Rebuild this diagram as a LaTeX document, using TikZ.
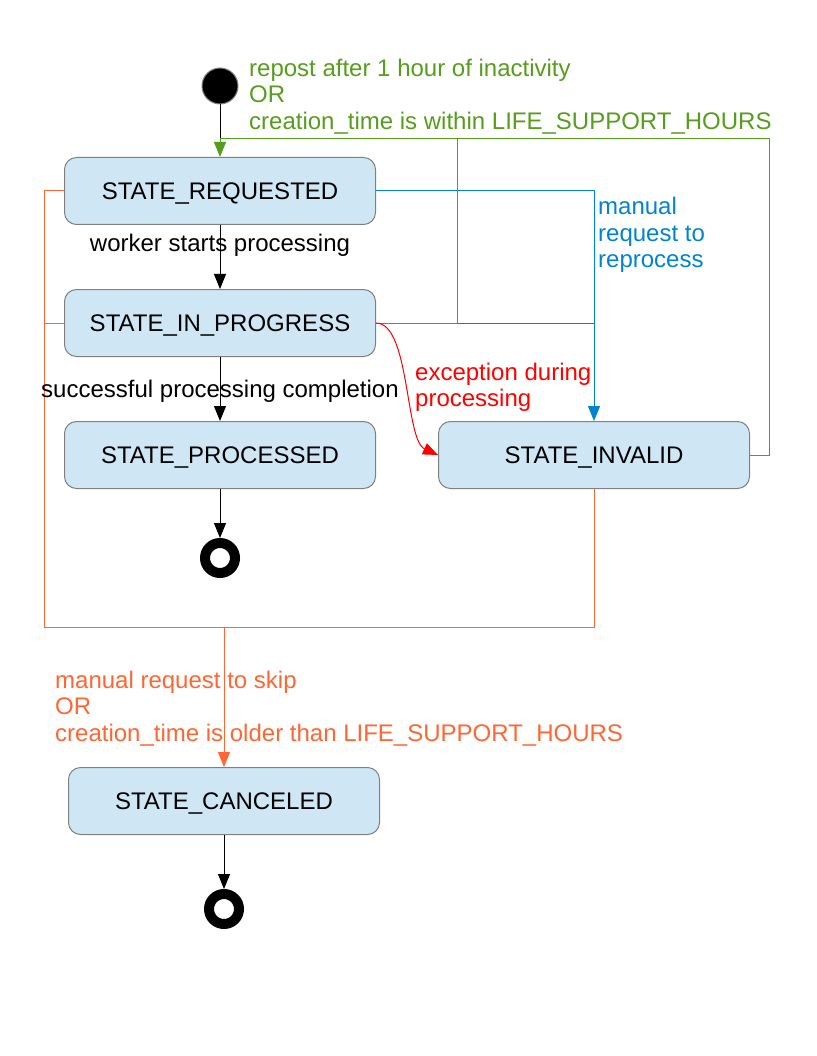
\documentclass[tikz,border=0pt]{standalone}
\usepackage{fontspec}
\setmainfont{Liberation Sans}
\usetikzlibrary{arrows.meta, positioning, calc}
\definecolor{boxfill}{HTML}{CFE7F5}
\definecolor{leafgreen}{HTML}{579D1C}
\definecolor{skyblue}{HTML}{0084D1}
\definecolor{tangerine}{HTML}{FF6633}
\tikzstyle{statebox} = [rectangle, rounded corners=12pt, minimum width=311pt, minimum height=67pt,
                        text height=17pt, text depth=0pt,
                        text centered, draw=gray, fill=boxfill, line width=1pt]
\tikzstyle{startdot} = [circle, minimum size=36pt, inner sep=0pt, fill=black, draw=gray, line width=1pt]
\tikzstyle{enddot} = [circle, minimum size=30pt, inner sep=0pt, draw=black, fill=white, line width=10pt]
\tikzstyle{arrow} = [-{Triangle[length=15pt, width=12pt]}, line width=1pt]
\tikzstyle{wire} = [line width=1pt]
\tikzstyle{note} = [align=left, inner sep=0pt, anchor=west]

\begin{document}
\begin{tikzpicture}[x=1pt, y=-1pt, font=\fontsize{24}{26.5}\selectfont]
    \useasboundingbox (0,0) rectangle (816,1056);

    \node[startdot] (start) at (220,86) {};
    \node[statebox] (requested) at (220,191) {STATE\_REQUESTED};
    \node[statebox] (progress) at (220,323) {STATE\_IN\_PROGRESS};
    \node[statebox] (processed) at (220,455) {STATE\_PROCESSED};
    \node[statebox] (invalid) at (594,455) {STATE\_INVALID};
    \node[statebox] (canceled) at (224,801) {STATE\_CANCELED};
    \node[enddot] (doneend) at (220,558) {};
    \node[enddot] (cancelend) at (224,909) {};

    \coordinate (feed) at (220,139);
    \coordinate (skip) at (224,627);

    % manual reprocess
    \draw[wire, skyblue] (progress.east) -- (progress.east -| invalid.north);
    \draw[arrow, skyblue] (requested.east) -| (invalid.north);

    % repost
    \draw[wire] (start) -- (feed);
    \draw[wire, leafgreen] (progress.east) -| (feed -| 457,0);
    \draw[wire, leafgreen] (invalid.east) -- ++(19,0) |- (feed);
    \draw[arrow, leafgreen] (feed) -- (requested.north);

    % exception
    \draw[arrow, red] (progress.east) .. controls (410,323) and (405,440) .. (invalid.west);

    % skip
    \draw[wire, tangerine] (requested.west) -- ++(-20,0) |- (skip);
    \draw[wire, tangerine] (progress.west) -- ++(-20,0);
    \draw[wire, tangerine] (invalid.south) |- (skip);
    \draw[arrow, tangerine] (skip) -- (canceled.north);

    \draw[arrow] (requested) -- (progress);
    \draw[arrow] (progress) -- (processed);
    \draw[arrow] (processed) -- (doneend);
    \draw[arrow] (canceled) -- (cancelend);

    \node[note, text=leafgreen] (repostnote) at (249,96.5)
        {repost after 1 hour of inactivity\\OR\\creation\_time is within LIFE\_SUPPORT\_HOURS};
    \node[inner sep=0pt] (workernote) at (220,245) {worker starts processing};
    \node[inner sep=0pt] (successnote) at (220,391) {successful processing completion};
    \node[note, text=red] (exceptionnote) at (415,387.5) {exception during\\processing};
    \node[note, text=skyblue] (reprocessnote) at (598,235) {manual\\request to\\reprocess};
    \node[note, text=tangerine] (skipnote) at (55,708.5)
        {manual request to skip\\OR\\creation\_time is older than LIFE\_SUPPORT\_HOURS};
\end{tikzpicture}
\end{document}
